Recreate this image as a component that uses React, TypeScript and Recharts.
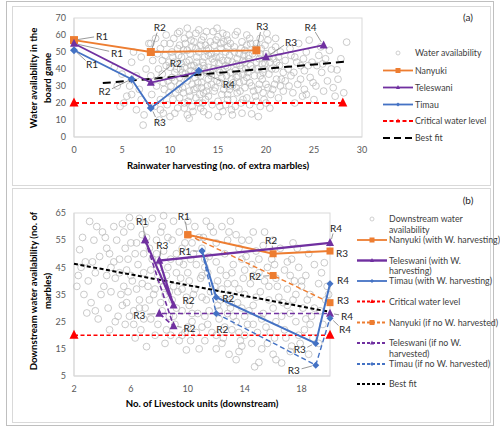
import React from "react";
import { ComposedChart, Scatter, XAxis, YAxis } from "recharts";

// ---------- panel (a): water availability vs rainwater harvesting ----------
const cloudA: [number, number][] = [
  [4.8, 18], [5.5, 24], [6, 44], [5, 37], [4.2, 41], [6.5, 16], [7.2, 7], [6.8, 28], [5.8, 30], [7, 22],
  [6.2, 50], [7.5, 40], [7, 47], [4.5, 30], [6.5, 36], [7.8, 55], [7.3, 13], [6, 25], [5.2, 20],
  [8, 55], [8.5, 58], [9, 52], [8.2, 45], [9.5, 48], [8.8, 40], [9.2, 37], [8, 36], [9.8, 33], [8.6, 30],
  [9.4, 28], [8.1, 25], [9, 22], [9.7, 19], [8.4, 18], [9.3, 14], [10, 12], [8.9, 10], [9.6, 60], [10, 55],
  [10.2, 50], [10.4, 44], [10, 41], [10.5, 38], [10.1, 30], [10.6, 26], [10.3, 22], [10.8, 17], [9.9, 44], [8.7, 49],
  [11, 62], [11.5, 58], [12, 60], [12.5, 56], [13, 63], [13.5, 59], [11, 54], [11.8, 51], [12.3, 53], [13, 50],
  [13.7, 54], [11.2, 47], [12, 45], [12.8, 47], [13.4, 44], [14, 48], [11.5, 41], [12.2, 39], [13, 41], [13.8, 38],
  [11, 35], [11.8, 33], [12.6, 35], [13.3, 32], [14, 34], [11.3, 29], [12, 27], [12.8, 29], [13.5, 26], [11, 23],
  [11.9, 21], [12.7, 23], [13.4, 20], [14, 24], [11.5, 17], [12.4, 15], [13.2, 17], [14, 13], [12, 11], [11.2, 43],
  [12.5, 42], [13.6, 47], [10.8, 52], [12.9, 37], [13.9, 30], [11.6, 37], [12.3, 31], [13.1, 25], [10.9, 28], [14, 41],
  [14.2, 56], [14, 52], [13.3, 57], [12.1, 49], [11.4, 51],
  [14.5, 62], [15, 59], [15.5, 61], [16, 57], [16.8, 60], [17.5, 56], [14.6, 54], [15.3, 52], [16, 53], [16.7, 50],
  [17.4, 52], [18, 54], [14.8, 47], [15.5, 45], [16.2, 48], [17, 46], [17.8, 44], [14.5, 40], [15.2, 38], [16, 41],
  [16.8, 39], [17.6, 37], [14.9, 33], [15.7, 31], [16.4, 34], [17.2, 32], [18, 35], [14.6, 27], [15.4, 25], [16.2, 28],
  [17, 26], [17.8, 29], [15, 21], [15.8, 19], [16.6, 22], [17.4, 20], [18, 23], [15.5, 15], [16.4, 16], [17.5, 14],
  [14.8, 50], [16.5, 44], [17.3, 42], [15.9, 36], [15.1, 43], [16.1, 30], [17.7, 48], [14.3, 36], [15.6, 56], [16.9, 35],
  [17.9, 40],
  [18.5, 13.6], [19.2, 12], [18.3, 58], [19, 55], [19.5, 52], [20.2, 57], [21, 53], [18.6, 49], [19.3, 46], [20, 49],
  [20.8, 46], [21.5, 50], [18.4, 42], [19.1, 40], [19.9, 43], [20.6, 40], [21.4, 42], [18.8, 36], [19.6, 34], [20.3, 37],
  [21.1, 34], [21.8, 38], [18.5, 30], [19.2, 28], [20, 31], [20.7, 28], [21.5, 30], [18.9, 24], [19.8, 22], [20.5, 25],
  [21.3, 23], [19.4, 18], [20.4, 17], [22, 45], [22, 33], [18.2, 46], [19.7, 38], [21, 58], [20.1, 61],
  [22.5, 52], [23, 47], [23.6, 42], [24.2, 50], [24.8, 44], [25.5, 48], [26.2, 46], [26.8, 40], [27.4, 39.5], [28.4, 55.8],
  [28.1, 26], [22.6, 36], [23.3, 31], [24, 28], [24.6, 35], [25.2, 30], [25.8, 38], [26.4, 33], [27, 29], [22.8, 26],
  [23.8, 24], [25, 22], [26, 27], [27.5, 34], [23.4, 55], [24.5, 57], [25.7, 53], [22.3, 40], [24, 39], [27.8, 46],
  [26.6, 51], [23, 20], [25.3, 42], [27.2, 24],
  [9.2, 45], [9.6, 42], [10.3, 47], [10.7, 40], [11.3, 38], [11.7, 44], [12.2, 42], [12.6, 38], [13.2, 36], [13.6, 40],
  [14.2, 38], [14.6, 44], [15, 40], [15.4, 35], [15.8, 42], [16.3, 38], [16.6, 32], [17.1, 36], [17.5, 40], [18.1, 38],
  [18.6, 40], [19, 44], [19.4, 36], [19.8, 40], [20.4, 44], [21, 40], [9.3, 32], [9.9, 26], [10.5, 33], [11, 31],
  [11.4, 26], [12.1, 24], [12.5, 28], [12.9, 32], [13.3, 29], [13.8, 27], [14.3, 31], [14.7, 29], [15.2, 32], [15.6, 28],
  [16, 25], [16.5, 30], [16.9, 29], [17.3, 27], [17.7, 33], [18.3, 32], [18.7, 27], [19.3, 31], [19.7, 26], [20.2, 29],
  [20.9, 31], [21.6, 34], [9.4, 55], [10.4, 58], [10.9, 48], [11.6, 55], [12.2, 57], [12.7, 52], [13.2, 54], [13.8, 51],
  [14.3, 49], [14.8, 57], [15.3, 55], [15.8, 50], [16.3, 55], [16.7, 53], [17.2, 49], [17.8, 51], [18.4, 55], [18.9, 52],
  [19.4, 49], [19.9, 54], [20.6, 51], [21.3, 47], [10.2, 35], [11.1, 40], [12, 36], [12.8, 44], [13.5, 42], [14.4, 46],
  [15.2, 47], [16, 45], [16.9, 43], [17.6, 45], [18.2, 48], [19.6, 43], [20.3, 47], [21.1, 44], [11.5, 20], [12.3, 18],
  [13, 20], [13.7, 22], [14.4, 19], [15.2, 18], [16, 22], [16.8, 18], [17.6, 22], [18.3, 19], [19, 21], [20, 20],
  [10.8, 61], [11.8, 64], [12.7, 61], [13.8, 62], [14.9, 64], [15.9, 60], [17, 62], [18, 60], [19.4, 58], [9, 16],
  [10.5, 14], [11.8, 13], [13.5, 15], [15, 12], [16.5, 13], [22.6, 48], [23.2, 44], [23.9, 46], [24.4, 42], [22.4, 30],
  [23.6, 34], [24.9, 32], [21.8, 27], [22.9, 38], [25.9, 43], [24.2, 25],
];

const nanyukiA = [
  { x: 0, y: 57, r: "R1" },
  { x: 8, y: 50, r: "R2" },
  { x: 19, y: 51, r: "R3" },
];
const teleswaniA = [
  { x: 0, y: 55, r: "R1" },
  { x: 8, y: 32, r: "R2" },
  { x: 20, y: 47, r: "R3" },
  { x: 26, y: 54, r: "R4" },
];
const timauA = [
  { x: 0, y: 51, r: "R1" },
  { x: 6, y: 34, r: "R2" },
  { x: 8, y: 17, r: "R3" },
  { x: 13, y: 39, r: "R4" },
];
const criticalA = [{ x: 0, y: 20 }, { x: 28, y: 20 }];
const bestFitA = [{ x: 3, y: 31.7 }, { x: 28.5, y: 44.4 }];
const ticksXA = [0, 5, 10, 15, 20, 25, 30];
const ticksYA = [0, 10, 20, 30, 40, 50, 60, 70];

// ---------- panel (b): downstream water vs livestock units ----------
const cloudB: [number, number][] = [
  [2.4, 51.5], [2.9, 28.2], [3.1, 61.9], [2.5, 45], [3, 40], [2.7, 35], [3.4, 55], [3.8, 49], [3.5, 43], [3.2, 32],
  [4, 58], [4.3, 52], [4.1, 38], [4.6, 45], [4.4, 30], [3.7, 26], [4.8, 60], [5, 55], [5.2, 48], [4.9, 41],
  [5.3, 35], [5.1, 27], [4.5, 22], [2.2, 38], [3.6, 60], [2.8, 47],
  [5.9, 63.3], [5.5, 58], [6, 54], [6.3, 50], [5.7, 44], [6.5, 46], [6.1, 40], [5.8, 36], [6.6, 33], [6.2, 29],
  [5.6, 24], [6.8, 57], [7, 61], [7.3, 52], [7.5, 48], [6.9, 43], [7.2, 38], [7.6, 35], [7, 30], [7.4, 26],
  [6.7, 22], [7.1, 15.8], [7.8, 55], [7.9, 42], [7.7, 20], [6.4, 37], [5.4, 31], [6, 60], [7.5, 63], [8, 45],
  [8.2, 60], [8.6, 56], [9, 62], [9.4, 58], [9.8, 54], [8.3, 51], [8.8, 48], [9.2, 50], [9.7, 46], [8.1, 40],
  [8.5, 42], [9, 38], [9.5, 41], [10, 43], [8.4, 35], [8.9, 33], [9.3, 36], [9.9, 34], [8.2, 29], [8.7, 27],
  [9.6, 29], [10.1, 31], [8.5, 22], [9.1, 24], [9.8, 21], [10.3, 25], [9.9, 14.6], [9.4, 18], [10.5, 60], [10.8, 56],
  [10.4, 50], [11, 52], [10.6, 46], [10.9, 41], [10.5, 37], [11, 34], [10.7, 28], [11, 23], [10.2, 18], [10.8, 15],
  [11.3, 62], [11.8, 58], [12.4, 60], [12.8, 55], [13.4, 57], [11.5, 49], [12, 47], [12.6, 50], [13.2, 46], [13.8, 48],
  [11.4, 43], [12.1, 40], [12.7, 42], [13.3, 39], [13.9, 41], [11.6, 36], [12.3, 33], [12.9, 35], [13.5, 32], [14, 35],
  [11.5, 29], [12.2, 26], [12.8, 28], [13.4, 25], [14, 27], [11.7, 21], [12.5, 19], [13.1, 22], [13.7, 18], [12, 15],
  [12.9, 13], [13.6, 14], [14, 20], [11.2, 45], [12.4, 37], [13, 30], [14, 44], [13.6, 52],
  [14.3, 55], [14.8, 51], [15.3, 53], [15.9, 48], [16.5, 52], [14.5, 46], [15, 43], [15.6, 45], [16.2, 41], [16.8, 44],
  [14.4, 39], [15.1, 36], [15.7, 38], [16.4, 34], [17, 37], [14.6, 31], [15.3, 28], [16, 30], [16.6, 27], [14.2, 24],
  [14.9, 21], [15.5, 23], [16.1, 19], [16.8, 22], [14.7, 8.4], [16.6, 9.8], [15.2, 15], [16, 13], [14.5, 17], [17, 31],
  [15.4, 58],
  [17.3, 48], [17.8, 45], [18.3, 42], [18.9, 46], [19.6, 46.7], [17.5, 40], [18, 38], [18.6, 35], [19.2, 39], [19.7, 33],
  [17.4, 33], [18.1, 30], [18.7, 27], [19.3, 29], [17.6, 25], [18.2, 22], [18.8, 19], [19.5, 24], [17.9, 17], [18.5, 13],
  [17.2, 14], [19.8, 38], [17.7, 52], [18.5, 50],
  [4.5, 50], [5.6, 52], [6.4, 54], [7.1, 56], [8.1, 58], [8.9, 55], [9.6, 52], [10.3, 54], [11.1, 56], [12, 54],
  [12.9, 58], [13.8, 55], [4.8, 47], [5.8, 48], [6.9, 50], [7.8, 50], [8.6, 45], [9.4, 47], [10.2, 48], [11.2, 48],
  [12.3, 44], [13.1, 43], [14.1, 49], [15, 48], [16.1, 46], [17, 47], [4.3, 42], [5.2, 43], [6, 42], [7.4, 44],
  [8.3, 38], [9.2, 43], [10.1, 40], [11, 42], [11.9, 38], [12.8, 39], [13.6, 37], [14.6, 42], [15.4, 40], [16.3, 38],
  [17.2, 42], [18, 40], [4.6, 36], [5.5, 38], [6.8, 39], [7.7, 37], [8.7, 36], [9.6, 37], [10.4, 35], [11.3, 33],
  [12.1, 31], [12.9, 32], [13.8, 30], [14.8, 34], [15.7, 33], [16.7, 32], [17.6, 35], [18.4, 33], [5.7, 32], [6.6, 30],
  [7.3, 33], [8.1, 32], [9.2, 30], [10.3, 28], [11.2, 27], [12.2, 29], [13.2, 27], [14.3, 29], [15.2, 26], [16.2, 25],
  [17.2, 28], [18.3, 26], [5.9, 27], [6.9, 26], [7.9, 24], [9, 27], [10, 23], [11.4, 24], [12.6, 23], [13.6, 21],
  [14.6, 24], [15.8, 21], [16.9, 19], [17.8, 20], [6.3, 19], [8.4, 17], [9.6, 20], [11.2, 18], [12.4, 17], [13.8, 16],
  [15.6, 17], [17.3, 16], [3.3, 47], [3.9, 35], [4.2, 56], [5.4, 61], [6.6, 63], [8.3, 64], [10, 62], [11.6, 60],
  [13, 62], [14.6, 58], [16, 55], [17.4, 54], [3.5, 29], [4.9, 25], [6.2, 24], [8.8, 20], [10.6, 21], [12, 20],
  [2.3, 42], [2.6, 56], [18.9, 30], [19.4, 43], [19.9, 35], [18.6, 24], [19.2, 17], [16.2, 11], [13.4, 11], [15, 10],
];

const nanyukiWith = [
  { x: 10, y: 57, r: "R1" },
  { x: 16, y: 50, r: "R2" },
  { x: 20, y: 51, r: "R3" },
];
const teleswaniWith = [
  { x: 7, y: 55, r: "R1" },
  { x: 9, y: 31, r: "R2" },
  { x: 8, y: 47.5, r: "R3" },
  { x: 20, y: 54, r: "R4" },
];
const timauWith = [
  { x: 11, y: 51, r: "R1" },
  { x: 12, y: 34, r: "R2" },
  { x: 19, y: 17, r: "R3" },
  { x: 20, y: 39, r: "R4" },
];
const nanyukiNo = [
  { x: 10, y: 57, r: "R1" },
  { x: 16, y: 42, r: "R2" },
  { x: 20, y: 32, r: "R3" },
];
const teleswaniNo = [
  { x: 7, y: 55, r: "R1" },
  { x: 9, y: 23.4, r: "R2" },
  { x: 8, y: 28, r: "R3" },
  { x: 20, y: 28, r: "R4" },
];
const timauNo = [
  { x: 11, y: 51, r: "R1" },
  { x: 12, y: 28, r: "R2" },
  { x: 19, y: 9, r: "R3" },
  { x: 20, y: 26.3, r: "R4" },
];
const criticalB = [{ x: 2, y: 20 }, { x: 20, y: 20 }];
const bestFitB = [{ x: 2, y: 46.3 }, { x: 20, y: 28.6 }];
const ticksXB = [2, 6, 10, 14, 18];
const ticksYB = [5, 15, 25, 35, 45, 55, 65];

// ---------- styling ----------
const ORANGE = "#ED7D31";
const PURPLE = "#7030A0";
const BLUE = "#4472C4";
const RED = "#FF0000";
const FONT = "Lato, 'Liberation Sans', sans-serif";
const TICK = { fill: "#595959", fontSize: 9, fontFamily: FONT };

// callout offsets (px) relative to each point: [dx, dy, leader]
type Callouts = Record<string, [number, number, boolean]>;
const calloutNanyukiA: Callouts = { R1: [28, -4, true], R2: [9, -25, true], R3: [6, -24, true] };
const calloutTeleswaniA: Callouts = { R1: [43, 9, true], R2: [25, -20, true], R3: [25, -15, true], R4: [-13, -18, true] };
const calloutTimauA: Callouts = { R1: [18, 14, true], R2: [-27, 12, true], R3: [9, 14, true], R4: [30, 13, true] };

const calloutNanyukiWith: Callouts = { R1: [-4, -19, true], R2: [-2, -14, true], R3: [12, 2, false] };
const calloutNanyukiNo: Callouts = { R2: [-18, 1, true], R3: [13, -3, false] };
const calloutTeleswaniWith: Callouts = { R1: [-3, -19, true], R2: [15, -5, false], R3: [3, -16, true], R4: [6, -15, true] };
const calloutTeleswaniNo: Callouts = { R2: [16, 2, true], R3: [-20, 1, true], R4: [17, 2, true] };
const calloutTimauWith: Callouts = { R1: [-17, 0, true], R2: [12, 1, false], R3: [-16, 6, true], R4: [13, -4, false] };
const calloutTimauNo: Callouts = { R2: [6, 15, false], R3: [-22, 5, true], R4: [15, 11, true] };

type Kind = "square" | "triangle" | "diamond" | "none";

function marker(kind: Kind, cx: number, cy: number, s: number, color: string) {
  if (kind === "square") return <rect x={cx - s / 2} y={cy - s / 2} width={s} height={s} fill={color} />;
  if (kind === "triangle")
    return (
      <polygon
        points={`${cx},${cy - s * 0.6} ${cx - s / 2},${cy + s * 0.4} ${cx + s / 2},${cy + s * 0.4}`}
        fill={color}
      />
    );
  if (kind === "diamond")
    return (
      <polygon points={`${cx},${cy - s / 2} ${cx + s / 2},${cy} ${cx},${cy + s / 2} ${cx - s / 2},${cy}`} fill={color} />
    );
  return null;
}

function makeShape(kind: Kind, color: string, size: number, callouts?: Callouts) {
  return (props: any) => {
    const { cx, cy, payload } = props;
    if (cx == null || cy == null) return <g />;
    const c = callouts && payload && payload.r ? callouts[payload.r] : undefined;
    let lead = null;
    let label = null;
    if (c) {
      const [dx, dy, hasLead] = c;
      const len = Math.hypot(dx, dy);
      if (hasLead && len > 12) {
        const ux = dx / len;
        const uy = dy / len;
        lead = (
          <line
            x1={cx + ux * 4}
            y1={cy + uy * 4}
            x2={cx + ux * (len - 8)}
            y2={cy + uy * (len - 6)}
            stroke="#808080"
            strokeWidth={0.8}
          />
        );
      }
      label = (
        <text
          x={cx + dx}
          y={cy + dy}
          textAnchor="middle"
          dominantBaseline="central"
          fontSize={10}
          fontFamily={FONT}
          fill="#262626"
        >
          {payload.r}
        </text>
      );
    }
    return (
      <g>
        {lead}
        {marker(kind, cx, cy, size, color)}
        {label}
      </g>
    );
  };
}

const ring = (props: any) =>
  props.cx == null ? <g /> : <circle cx={props.cx} cy={props.cy} r={3.4} fill="none" stroke="#bdbdbd" strokeWidth={0.8} />;

const toPts = (arr: [number, number][]) => arr.map(([x, y]) => ({ x, y }));

function LegendRow({ x, y, lines, color, dash, kind, ms, width = 1.8, gap = 10.5 }: any) {
  return (
    <g>
      {color && <line x1={x} y1={y} x2={x + 30} y2={y} stroke={color} strokeWidth={width} strokeDasharray={dash} />}
      {marker(kind, x + 15, y, ms, color)}
      {lines.map((t: string, i: number) => (
        <text key={i} x={x + 32} y={y + 3 + i * gap} fontSize={8.8} fontFamily={FONT} fill="#404040">
          {t}
        </text>
      ))}
    </g>
  );
}

export default function App() {
  return (
    <div style={{ position: "absolute", left: 0, top: 0, width: 500, height: 429, background: "#fff" }}>
      <svg width={500} height={429} style={{ position: "absolute", left: 0, top: 0 }}>
        <rect x={6.5} y={1.5} width={487} height={424} fill="none" stroke="#bfbfbf" />
        <rect x={12.5} y={6.5} width={478} height={179} fill="none" stroke="#d9d9d9" />
        <rect x={12.5} y={188.5} width={478} height={234} fill="none" stroke="#d9d9d9" />
        <rect x={74} y={18} width={288} height={119} fill="none" stroke="#d9d9d9" />
        <rect x={74} y={213} width={256} height={163} fill="none" stroke="#d9d9d9" />

        <g fontFamily={FONT} fontWeight="bold" fontSize={9.6} fill="#000">
          <text x={218} y={169} textAnchor="middle">Rainwater harvesting (no. of extra marbles)</text>
          <text transform="translate(36.5,78) rotate(-90)" textAnchor="middle">Water availability in the</text>
          <text transform="translate(50.5,78) rotate(-90)" textAnchor="middle">board game</text>
          <text x={202} y={407} textAnchor="middle">No. of Livestock units (downstream)</text>
          <text transform="translate(36.5,291) rotate(-90)" textAnchor="middle">Downstream water availability (no. of</text>
          <text transform="translate(50.5,291) rotate(-90)" textAnchor="middle">marbles)</text>
        </g>
        <text x={468} y={21} textAnchor="middle" fontSize={10} fontFamily={FONT} fill="#262626">(a)</text>
        <text x={468} y={204} textAnchor="middle" fontSize={10} fontFamily={FONT} fill="#262626">(b)</text>

        {/* legend (a) */}
        <circle cx={398} cy={53} r={2} fill="none" stroke="#c4c4c4" strokeWidth={0.8} />
        <text x={415} y={56} fontSize={8.8} fontFamily={FONT} fill="#404040">Water availability</text>
        <LegendRow x={383} y={70.5} lines={["Nanyuki"]} color={ORANGE} kind="square" ms={5} />
        <LegendRow x={383} y={87.5} lines={["Teleswani"]} color={PURPLE} kind="triangle" ms={4} />
        <LegendRow x={383} y={104.5} lines={["Timau"]} color={BLUE} kind="diamond" ms={4} />
        <LegendRow x={383} y={121} lines={["Critical water level"]} color={RED} dash="4 2.5" kind="triangle" ms={4} />
        <LegendRow x={383} y={138} lines={["Best fit"]} color="#000" dash="7 4" width={2} kind="none" ms={0} />

        {/* legend (b) */}
        <circle cx={372} cy={219} r={2} fill="none" stroke="#c4c4c4" strokeWidth={0.8} />
        <text x={389} y={222} fontSize={8.8} fontFamily={FONT} fill="#404040">Downstream water</text>
        <text x={389} y={232.5} fontSize={8.8} fontFamily={FONT} fill="#404040">availability</text>
        <LegendRow x={357} y={240} lines={["Nanyuki (with W. harvesting)"]} color={ORANGE} kind="square" ms={5} />
        <LegendRow x={357} y={260.5} lines={["Teleswani (with W.", "harvesting)"]} color={PURPLE} width={2.4} kind="triangle" ms={4} />
        <LegendRow x={357} y={281} lines={["Timau (with W. harvesting)"]} color={BLUE} kind="diamond" ms={4} />
        <LegendRow x={357} y={301.5} lines={["Critical water level"]} color={RED} dash="3 2" kind="triangle" ms={4} />
        <LegendRow x={357} y={322.5} lines={["Nanyuki (if no W. harvested)"]} color={ORANGE} dash="3 2" kind="square" ms={5} />
        <LegendRow x={357} y={343} lines={["Teleswani (if no W.", "harvested)"]} color={PURPLE} dash="3 2" kind="triangle" ms={4} />
        <LegendRow x={357} y={364} lines={["Timau (if no W. harvested)"]} color={BLUE} dash="3 2" kind="diamond" ms={4} />
        <LegendRow x={357} y={384} lines={["Best fit"]} color="#000" dash="3 2" width={2} kind="none" ms={0} />
      </svg>

      <div style={{ position: "absolute", left: 0, top: 0 }}>
        <ComposedChart width={500} height={185} margin={{ top: 18, right: 138, bottom: 28, left: 44 }}>
          <XAxis
            type="number"
            dataKey="x"
            domain={[0, 30]}
            ticks={ticksXA}
            tick={TICK}
            tickLine={false}
            tickMargin={4}
            axisLine={{ stroke: "#d9d9d9" }}
            height={20}
          />
          <YAxis
            type="number"
            dataKey="y"
            domain={[0, 70]}
            ticks={ticksYA}
            tick={TICK}
            tickLine={false}
            axisLine={{ stroke: "#d9d9d9" }}
            width={30}
          />
          <Scatter data={toPts(cloudA)} shape={ring} isAnimationActive={false} />
          <Scatter data={criticalA} line={{ stroke: RED, strokeWidth: 1.8, strokeDasharray: "5 3" }} shape={makeShape("triangle", RED, 9)} isAnimationActive={false} />
          <Scatter data={bestFitA} line={{ stroke: "#000", strokeWidth: 2, strokeDasharray: "8 5" }} shape={makeShape("none", "#000", 0)} isAnimationActive={false} />
          <Scatter data={nanyukiA} line={{ stroke: ORANGE, strokeWidth: 1.8 }} shape={makeShape("square", ORANGE, 8, calloutNanyukiA)} isAnimationActive={false} />
          <Scatter data={teleswaniA} line={{ stroke: PURPLE, strokeWidth: 1.8 }} shape={makeShape("triangle", PURPLE, 8, calloutTeleswaniA)} isAnimationActive={false} />
          <Scatter data={timauA} line={{ stroke: BLUE, strokeWidth: 1.8 }} shape={makeShape("diamond", BLUE, 8, calloutTimauA)} isAnimationActive={false} />
        </ComposedChart>
      </div>

      <div style={{ position: "absolute", left: 0, top: 190 }}>
        <ComposedChart width={500} height={230} margin={{ top: 23, right: 170, bottom: 24, left: 44 }}>
          <XAxis
            type="number"
            dataKey="x"
            domain={[2, 20]}
            ticks={ticksXB}
            tick={TICK}
            tickLine={false}
            tickMargin={4}
            axisLine={{ stroke: "#d9d9d9" }}
            height={20}
          />
          <YAxis
            type="number"
            dataKey="y"
            domain={[5, 65]}
            ticks={ticksYB}
            tick={TICK}
            tickLine={false}
            axisLine={{ stroke: "#d9d9d9" }}
            width={30}
          />
          <Scatter data={toPts(cloudB)} shape={ring} isAnimationActive={false} />
          <Scatter data={criticalB} line={{ stroke: RED, strokeWidth: 1.6, strokeDasharray: "4 2.5" }} shape={makeShape("triangle", RED, 9)} isAnimationActive={false} />
          <Scatter data={bestFitB} line={{ stroke: "#000", strokeWidth: 2, strokeDasharray: "4 2.5" }} shape={makeShape("none", "#000", 0)} isAnimationActive={false} />
          <Scatter data={nanyukiNo} line={{ stroke: ORANGE, strokeWidth: 1.4, strokeDasharray: "5 3" }} shape={makeShape("square", ORANGE, 7, calloutNanyukiNo)} isAnimationActive={false} />
          <Scatter data={teleswaniNo} line={{ stroke: PURPLE, strokeWidth: 1.6, strokeDasharray: "5 3" }} shape={makeShape("triangle", PURPLE, 8, calloutTeleswaniNo)} isAnimationActive={false} />
          <Scatter data={timauNo} line={{ stroke: BLUE, strokeWidth: 1.4, strokeDasharray: "5 3" }} shape={makeShape("diamond", BLUE, 7, calloutTimauNo)} isAnimationActive={false} />
          <Scatter data={nanyukiWith} line={{ stroke: ORANGE, strokeWidth: 2 }} shape={makeShape("square", ORANGE, 7, calloutNanyukiWith)} isAnimationActive={false} />
          <Scatter data={teleswaniWith} line={{ stroke: PURPLE, strokeWidth: 2.2 }} shape={makeShape("triangle", PURPLE, 8, calloutTeleswaniWith)} isAnimationActive={false} />
          <Scatter data={timauWith} line={{ stroke: BLUE, strokeWidth: 2 }} shape={makeShape("diamond", BLUE, 7, calloutTimauWith)} isAnimationActive={false} />
        </ComposedChart>
      </div>
    </div>
  );
}
